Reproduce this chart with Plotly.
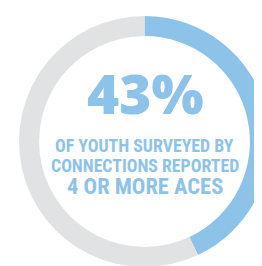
import plotly.graph_objects as go

labels = ["4 or more ACEs", "Other"]
values = [43, 57]
colors = ["#8EC3E9", "#E1E2E4"]
headline = "43%"
sub_lines = ["OF YOUTH SURVEYED BY", "CONNECTIONS REPORTED", "4 OR MORE ACES"]

W, H = 262, 266
BLUE = "#8EC3E9"

fig = go.Figure(go.Pie(
    labels=labels, values=values, hole=0.84, sort=False,
    direction="clockwise", rotation=0,
    marker=dict(colors=colors, line=dict(width=0)),
    textinfo="none", hoverinfo="skip", showlegend=False,
    domain=dict(x=[11 / W, 1], y=[1 - 260 / H, 1 - 7 / H]),
))

def px(x, y):
    return x / W, 1 - y / H

anns = []
x, y = px(137.5, 84)
anns.append(dict(x=x, y=y, xref="paper", yref="paper", text=headline, showarrow=False,
                 xanchor="center", yanchor="middle",
                 font=dict(family="Open Sans", size=55, color=BLUE, weight=800)))
for (cy, size), t in zip([(137, 17.8), (157.5, 17.8), (178, 22.5)], sub_lines):
    x, y = px(136.5, cy)
    anns.append(dict(x=x, y=y, xref="paper", yref="paper", text=t, showarrow=False,
                     xanchor="center", yanchor="middle", borderpad=0,
                     font=dict(family="Roboto Condensed", size=size,
                               color=BLUE, weight="bold")))

fig.update_layout(width=W, height=H, margin=dict(l=0, r=0, t=0, b=0),
                  paper_bgcolor="white", plot_bgcolor="white", annotations=anns)
fig.write_html("out.html")
